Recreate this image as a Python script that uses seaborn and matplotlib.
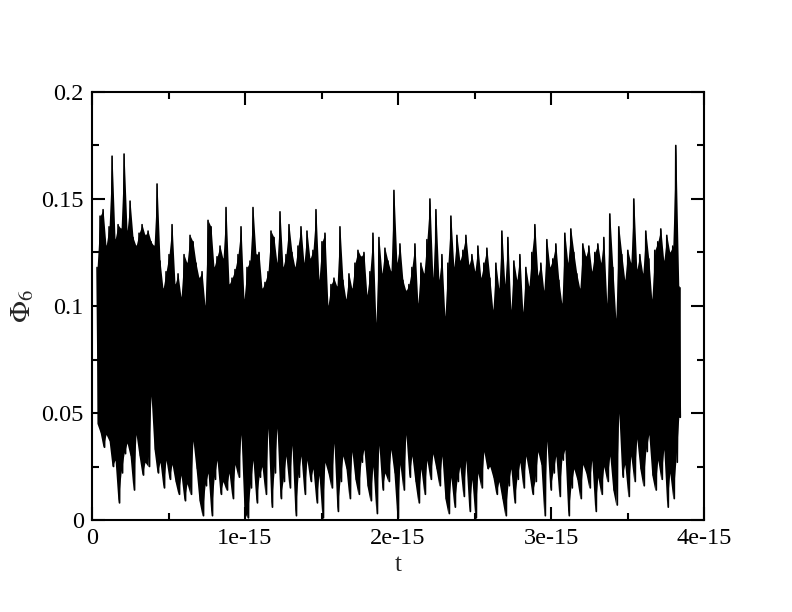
#!/usr/bin/env python3
"""Phi_6 order parameter vs time, xmgrace-style line plot."""

import numpy as np
import pandas as pd
import matplotlib
matplotlib.use('Agg')
import matplotlib.pyplot as plt
from matplotlib.ticker import MultipleLocator, FuncFormatter
import seaborn as sns

# Time window covered by the trace (s)
t_start = 0.033e-15
t_end = 3.845e-15

# Upper swing of each oscillation (left to right)
phi_hi = [
    0.118, 0.142, 0.145, 0.128, 0.137, 0.170, 0.131, 0.138, 0.136, 0.171,
    0.135, 0.149, 0.132, 0.128, 0.134, 0.138, 0.133, 0.135, 0.130, 0.128,
    0.157, 0.121, 0.108, 0.116, 0.124, 0.138, 0.110, 0.115, 0.104, 0.124,
    0.120, 0.133,
    0.130, 0.120, 0.113, 0.116, 0.100, 0.140, 0.137, 0.118, 0.123, 0.128,
    0.122, 0.146, 0.110, 0.113, 0.117, 0.124, 0.137, 0.103, 0.118, 0.121,
    0.146, 0.124, 0.125, 0.108, 0.111, 0.116, 0.135, 0.132, 0.120, 0.144,
    0.118, 0.124, 0.138,
    0.125, 0.118, 0.128, 0.137, 0.120, 0.135, 0.122, 0.126, 0.145, 0.112,
    0.130, 0.134, 0.100, 0.110, 0.113, 0.109, 0.137, 0.112, 0.103, 0.115,
    0.108, 0.120, 0.126, 0.123, 0.125, 0.105, 0.116, 0.134, 0.092, 0.132,
    0.115, 0.127, 0.121,
    0.116, 0.154, 0.120, 0.129, 0.112, 0.107, 0.110, 0.118, 0.129, 0.101,
    0.120, 0.115, 0.131, 0.150, 0.113, 0.145, 0.112, 0.124, 0.095, 0.120,
    0.142, 0.118, 0.133, 0.121, 0.126, 0.133, 0.119, 0.124, 0.116, 0.128,
    0.113, 0.120, 0.127,
    0.113, 0.098, 0.120, 0.108, 0.135, 0.110, 0.132, 0.098, 0.121, 0.112,
    0.124, 0.097, 0.118, 0.109, 0.125, 0.138, 0.114, 0.120, 0.107, 0.131,
    0.118, 0.122, 0.129, 0.112, 0.101, 0.134, 0.120, 0.136, 0.125, 0.115,
    0.108, 0.129,
    0.123, 0.128, 0.116, 0.125, 0.129, 0.120, 0.132, 0.101, 0.143, 0.118,
    0.094, 0.137, 0.124, 0.112, 0.126, 0.120, 0.150, 0.117, 0.124, 0.115,
    0.135, 0.122, 0.103, 0.126, 0.130, 0.136, 0.121, 0.133, 0.125, 0.128,
    0.175, 0.109,
]

# Lower swing of each oscillation
phi_lo = [
    0.045, 0.041, 0.034, 0.040, 0.037, 0.025, 0.028, 0.008, 0.022, 0.031,
    0.036, 0.030, 0.014, 0.040, 0.030, 0.021, 0.027, 0.025, 0.058, 0.033,
    0.022, 0.027, 0.015, 0.028, 0.019, 0.026, 0.018, 0.012, 0.021, 0.009,
    0.017, 0.012,
    0.037, 0.024, 0.009, 0.002, 0.016, 0.022, 0.002, 0.019, 0.028, 0.012,
    0.018, 0.014, 0.022, 0.010, 0.026, 0.020, 0.040, 0.004, 0.001, 0.015,
    0.028, 0.008, 0.020, 0.025, 0.012, 0.043, 0.006, 0.022, 0.043, 0.010,
    0.018, 0.030, 0.015,
    0.035, 0.002, 0.020, 0.030, 0.012, 0.028, 0.018, 0.024, 0.008, 0.021,
    0.001, 0.027, 0.022, 0.015, 0.036, 0.004, 0.018, 0.030, 0.024, 0.010,
    0.032, 0.019, 0.012, 0.027, 0.033, 0.016, 0.009, 0.025, 0.003, 0.035,
    0.014, 0.022, 0.018,
    0.033, 0.022, 0.001, 0.026, 0.014, 0.040, 0.020, 0.030, 0.018, 0.008,
    0.024, 0.012, 0.028, 0.019, 0.031, 0.024, 0.016, 0.030, 0.010, 0.003,
    0.020, 0.006, 0.018, 0.025, 0.011, 0.028, 0.004, 0.019, 0.001, 0.022,
    0.015, 0.032, 0.024,
    0.025, 0.020, 0.012, 0.018, 0.010, 0.002, 0.016, 0.024, 0.008, 0.019,
    0.027, 0.015, 0.030, 0.022, 0.012, 0.018, 0.032, 0.026, 0.002, 0.037,
    0.014, 0.022, 0.030, 0.011, 0.028, 0.033, 0.002, 0.015, 0.024, 0.019,
    0.010, 0.026,
    0.022, 0.015, 0.028, 0.004, 0.020, 0.012, 0.025, 0.018, 0.030, 0.014,
    0.007, 0.050, 0.020, 0.026, 0.011, 0.030, 0.018, 0.038, 0.024, 0.016,
    0.032, 0.040, 0.021, 0.014, 0.028, 0.019, 0.033, 0.006, 0.022, 0.010,
    0.027, 0.048,
]

y_ticks = [0, 0.05, 0.1, 0.15, 0.2]
x_ticks = [0, 1e-15, 2e-15, 3e-15, 4e-15]

# Interleave the swings into a single time series
phi = np.column_stack([phi_hi, phi_lo]).ravel()
t = np.linspace(t_start, t_end, len(phi))
df = pd.DataFrame({'t': t, 'phi6': phi})

sns.set_theme(style='ticks')
plt.rcParams['font.family'] = ['Liberation Serif', 'DejaVu Serif']
plt.rcParams['mathtext.fontset'] = 'stix'

fig = plt.figure(figsize=(7.92, 6.12), dpi=100)
ax = fig.add_axes([0.1162, 0.1503, 0.7727, 0.6994])

# the real trace is far denser than what can be read off; fill the band
# between the swings so the core is solid like the original
ax.fill_between(df['t'], np.interp(df['t'], t[0::2], phi_lo),
                np.interp(df['t'], t[0::2], phi_hi),
                color='black', linewidth=0)
sns.lineplot(data=df, x='t', y='phi6', ax=ax, color='black',
             linewidth=1.2, sort=False, estimator=None)

ax.set_xlim(0, 4e-15)
ax.set_ylim(0, 0.2)
ax.set_xticks(x_ticks)
ax.set_yticks(y_ticks)
ax.xaxis.set_minor_locator(MultipleLocator(0.5e-15))
ax.yaxis.set_minor_locator(MultipleLocator(0.025))
fmt = FuncFormatter(lambda v, pos: '%g' % v)
ax.xaxis.set_major_formatter(fmt)
ax.yaxis.set_major_formatter(fmt)

ax.tick_params(which='both', direction='in', top=True, right=True,
               color='black', width=1.5, labelsize=17.5, labelcolor='black')
ax.tick_params(which='major', length=9.5, pad=6)
ax.tick_params(which='minor', length=5)
for sp in ax.spines.values():
    sp.set_linewidth(1.5)
    sp.set_color('black')

ax.set_xlabel('t', fontsize=18, labelpad=3)
ax.set_ylabel(r'$\Phi_6$', fontsize=21, labelpad=4)

fig.savefig('out.png', dpi=100)
